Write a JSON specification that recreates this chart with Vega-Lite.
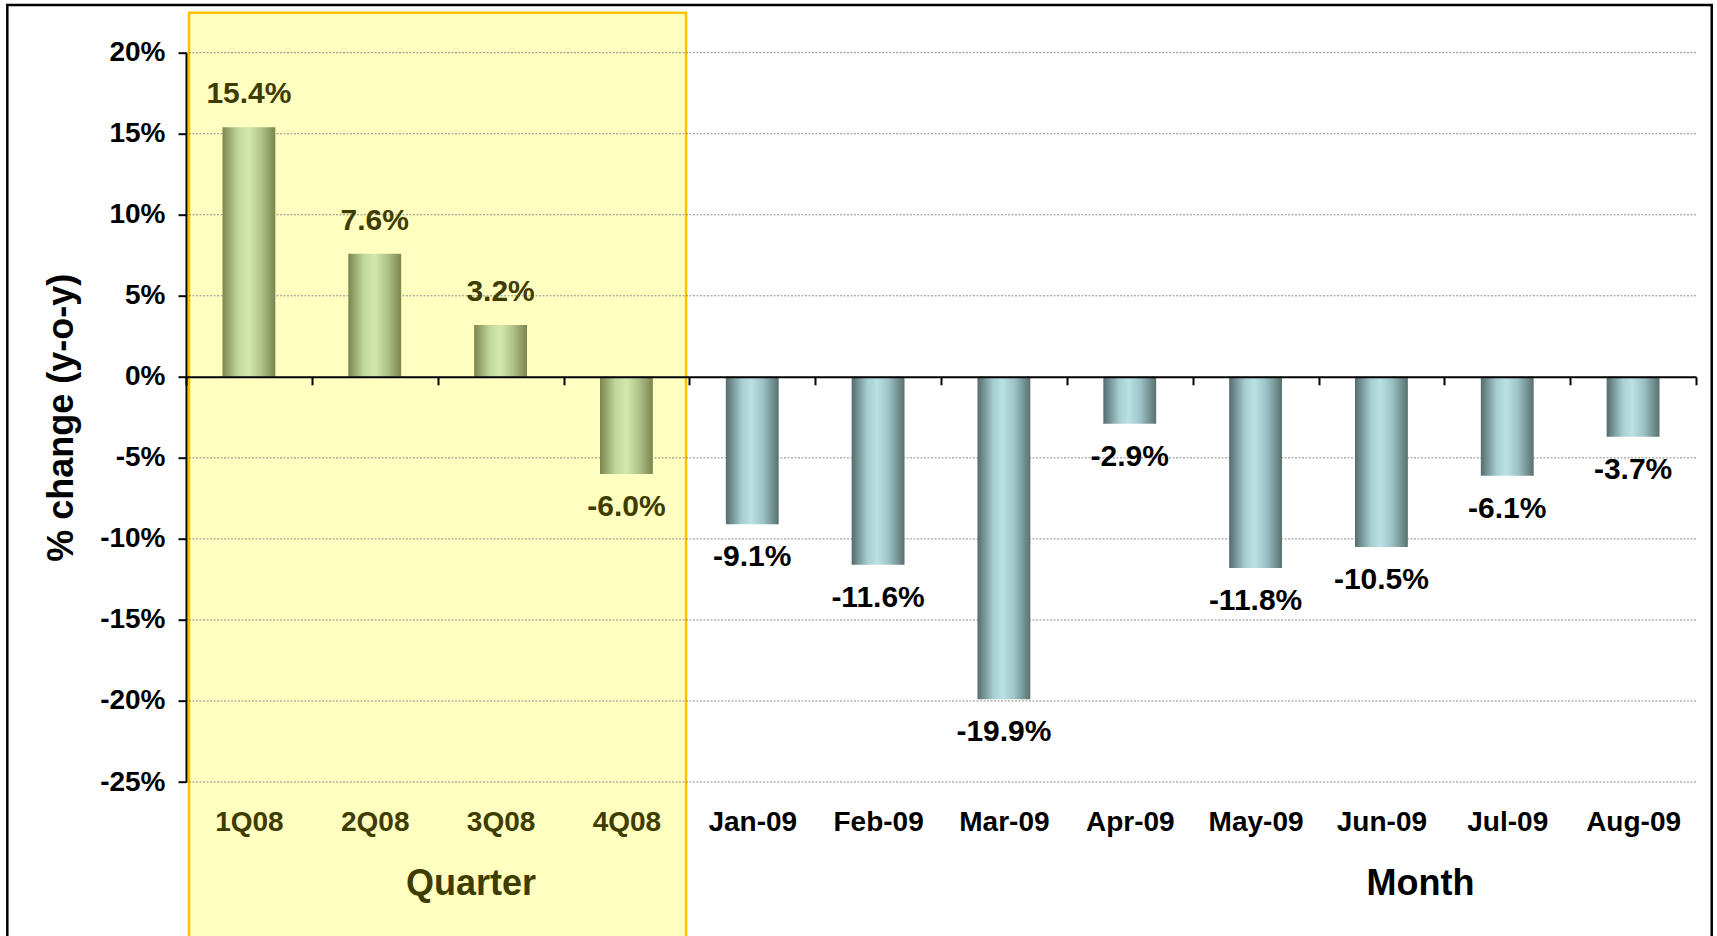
{
  "$schema": "https://vega.github.io/schema/vega-lite/v6.json",
  "width": 1510,
  "height": 729.3,
  "autosize": {"type": "none"},
  "padding": {"left": 186, "top": 52.7, "right": 21, "bottom": 154},
  "background": "white",
  "config": {"view": {"stroke": null}, "font": "Liberation Sans"},
  "datasets": {
    "bars": [
      {"period": "1Q08", "group": "Quarter", "v": 15.4},
      {"period": "2Q08", "group": "Quarter", "v": 7.6},
      {"period": "3Q08", "group": "Quarter", "v": 3.2},
      {"period": "4Q08", "group": "Quarter", "v": -6.0},
      {"period": "Jan-09", "group": "Month", "v": -9.1},
      {"period": "Feb-09", "group": "Month", "v": -11.6},
      {"period": "Mar-09", "group": "Month", "v": -19.9},
      {"period": "Apr-09", "group": "Month", "v": -2.9},
      {"period": "May-09", "group": "Month", "v": -11.8},
      {"period": "Jun-09", "group": "Month", "v": -10.5},
      {"period": "Jul-09", "group": "Month", "v": -6.1},
      {"period": "Aug-09", "group": "Month", "v": -3.7}
    ],
    "grid": [{"g": 20}, {"g": 15}, {"g": 10}, {"g": 5}, {"g": -5}, {"g": -10}, {"g": -15}, {"g": -20}, {"g": -25}]
  },
  "layer": [
    {
      "data": {"values": [{}]},
      "layer": [
        {
          "mark": {"type": "rect", "fill": "#ffffc0", "stroke": "#ffc000", "strokeWidth": 2.5},
          "encoding": {
            "x": {"datum": 0.024, "type": "quantitative", "scale": {"domain": [0, 12], "nice": false, "zero": false}, "axis": null},
            "x2": {"datum": 3.974},
            "y": {"datum": 22.47, "type": "quantitative", "scale": {"domain": [-25, 20], "nice": false, "zero": false}},
            "y2": {"datum": -40}
          }
        },
        {
          "mark": {"type": "rect", "fill": "transparent", "stroke": "black", "strokeWidth": 2.5},
          "encoding": {
            "x": {"datum": -1.42, "type": "quantitative"},
            "x2": {"datum": 12.125},
            "y": {"datum": 22.94, "type": "quantitative"},
            "y2": {"datum": -40}
          }
        },
        {
          "data": {"name": "grid"},
          "mark": {"type": "rule", "color": "#8c8c8c", "strokeWidth": 1, "strokeDash": [2, 1.5]},
          "encoding": {"y": {"field": "g", "type": "quantitative"}}
        },
        {
          "mark": {"type": "text", "text": "Quarter", "font": "Liberation Sans", "fontSize": 36, "fontWeight": "bold", "color": "#3f3c00", "baseline": "middle", "align": "center"},
          "encoding": {"x": {"datum": 2.265, "type": "quantitative"}, "y": {"datum": -31.3, "type": "quantitative"}}
        },
        {
          "mark": {"type": "text", "text": "Month", "font": "Liberation Sans", "fontSize": 36, "fontWeight": "bold", "color": "black", "baseline": "middle", "align": "center"},
          "encoding": {"x": {"datum": 9.81, "type": "quantitative"}, "y": {"datum": -31.3, "type": "quantitative"}}
        }
      ]
    },
    {
      "data": {"name": "bars"},
      "transform": [
        {"calculate": "(datum.v < 0 ? '-' : '') + format(abs(datum.v), '.1f') + '%'", "as": "lbl"}
      ],
      "encoding": {
        "x": {
          "field": "period",
          "type": "nominal",
          "scale": {"domain": ["1Q08", "2Q08", "3Q08", "4Q08", "Jan-09", "Feb-09", "Mar-09", "Apr-09", "May-09", "Jun-09", "Jul-09", "Aug-09"], "paddingInner": 0, "paddingOuter": 0},
          "axis": {
            "orient": "bottom",
            "offset": -405.2,
            "zindex": 1,
            "title": null,
            "domainColor": "black",
            "domainWidth": 2,
            "ticks": true,
            "tickBand": "extent",
            "tickSize": 8,
            "tickColor": "black",
            "tickWidth": 2,
            "labelAngle": 0,
            "labelFont": "Liberation Sans",
            "labelFontSize": 28,
            "labelFontWeight": "bold",
            "labelPadding": 424,
            "labelColor": {"condition": {"test": "indexof(['1Q08','2Q08','3Q08','4Q08'], datum.value) >= 0", "value": "#3f3c00"}, "value": "black"}
          }
        },
        "y": {
          "field": "v",
          "type": "quantitative",
          "scale": {"domain": [-25, 20], "nice": false, "zero": false},
          "axis": {
            "zindex": 1,
            "values": [20, 15, 10, 5, 0, -5, -10, -15, -20, -25],
            "labelExpr": "datum.value + '%'",
            "labelFont": "Liberation Sans",
            "labelFontSize": 28,
            "labelFontWeight": "bold",
            "labelColor": "black",
            "labelPadding": 13,
            "tickSize": 8,
            "tickColor": "black",
            "tickWidth": 2,
            "domainColor": "black",
            "domainWidth": 2,
            "grid": false,
            "title": "% change (y-o-y)",
            "titleFont": "Liberation Sans",
            "titleFontSize": 36,
            "titleFontWeight": "bold",
            "titleColor": "black",
            "titlePadding": 19
          }
        }
      },
      "layer": [
        {
          "mark": {"type": "bar", "width": {"band": 0.42}},
          "encoding": {
            "y2": {"datum": 0},
            "fill": {
              "condition": {
                "test": "datum.group === 'Quarter'",
                "value": {"gradient": "linear", "x1": 0, "x2": 1, "y1": 0, "y2": 0, "stops": [
                  {"offset": 0, "color": "#7b8650"},
                  {"offset": 0.3, "color": "#c2d99c"},
                  {"offset": 0.5, "color": "#d2e8ac"},
                  {"offset": 0.72, "color": "#b3c68a"},
                  {"offset": 1, "color": "#7a8550"}
                ]}
              },
              "value": {"gradient": "linear", "x1": 0, "x2": 1, "y1": 0, "y2": 0, "stops": [
                {"offset": 0, "color": "#546c6d"},
                {"offset": 0.3, "color": "#a6cdd0"},
                {"offset": 0.48, "color": "#bae1e4"},
                {"offset": 0.7, "color": "#9dc3c6"},
                {"offset": 1, "color": "#58706f"}
              ]}
            }
          }
        },
        {
          "transform": [{"filter": "datum.v >= 0"}],
          "mark": {"type": "text", "font": "Liberation Sans", "fontSize": 30, "fontWeight": "bold", "baseline": "middle", "dy": -33},
          "encoding": {
            "text": {"field": "lbl"},
            "color": {"condition": {"test": "datum.group === 'Quarter'", "value": "#3f3c00"}, "value": "black"}
          }
        },
        {
          "transform": [{"filter": "datum.v < 0"}],
          "mark": {"type": "text", "font": "Liberation Sans", "fontSize": 30, "fontWeight": "bold", "baseline": "middle", "dy": 33},
          "encoding": {
            "text": {"field": "lbl"},
            "color": {"condition": {"test": "datum.group === 'Quarter'", "value": "#3f3c00"}, "value": "black"}
          }
        }
      ]
    }
  ],
  "resolve": {"scale": {"x": "independent"}}
}
